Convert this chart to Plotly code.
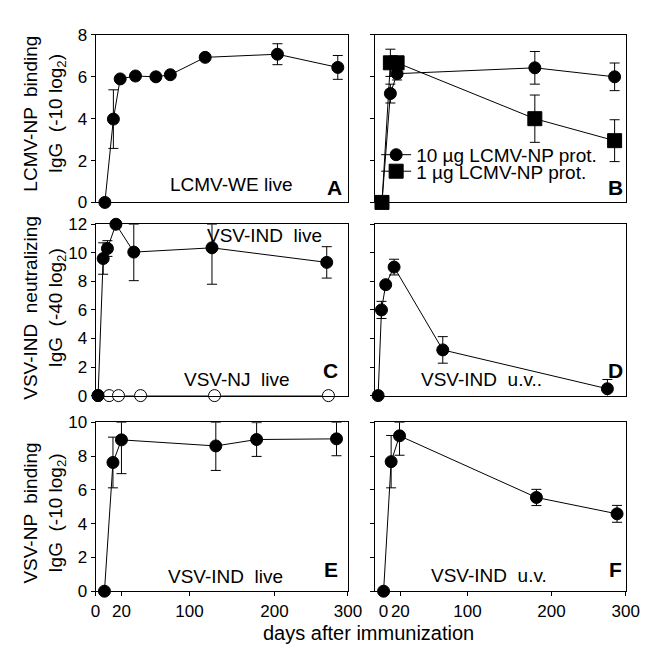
import plotly.graph_objects as go
from plotly.subplots import make_subplots

# ---------------- data ----------------
# Panel A: LCMV-NP binding IgG, LCMV-WE live
a_days = [0, 10, 18, 36, 60, 77, 118, 203, 274]
a_vals = [0, 3.98, 5.9, 6.04, 6.0, 6.1, 6.93, 7.08, 6.45]
a_err = [0, 1.4, 0, 0, 0, 0, 0, 0.5, 0.57]

# Panel B: 10 ug / 1 ug LCMV-NP protein
b10_days = [0, 10, 18, 182, 277]
b10_vals = [0, 5.2, 6.15, 6.43, 6.0]
b10_err = [0, 0.45, 0.3, 0.78, 0.66]
b1_days = [0, 10, 18, 182, 277]
b1_vals = [0, 6.67, 6.67, 4.0, 2.95]
b1_err = [0, 0.65, 0, 1.13, 1.0]

# Panel C: VSV-IND neutralizing IgG, VSV-IND live (filled) / VSV-NJ live (open)
c_ind_days = [0, 6, 11, 21, 42, 134, 269]
c_ind_vals = [0, 9.6, 10.3, 12.0, 10.05, 10.35, 9.33]
c_ind_err_plus = [0, 1.1, 0.55, 0, 1.95, 1.65, 1.1]
c_ind_err_minus = [0, 1.1, 0.55, 0, 2.0, 2.55, 1.1]
c_nj_days = [0, 13, 24, 50, 137, 271]
c_nj_vals = [0, 0, 0, 0, 0, 0]

# Panel D: VSV-IND u.v.
d_days = [0, 4, 9, 19, 77, 273]
d_vals = [0, 6.0, 7.77, 9.0, 3.2, 0.48]
d_err = [0, 0.6, 0, 0.55, 0.93, 0.65]

# Panel E: VSV-NP binding IgG, VSV-IND live
e_days = [0, 10, 20, 131, 179, 273]
e_vals = [0, 7.62, 8.96, 8.6, 8.98, 9.02]
e_err_plus = [0, 1.5, 1.04, 1.4, 1.0, 0.98]
e_err_minus = [0, 1.5, 2.0, 1.45, 1.0, 1.0]

# Panel F: VSV-IND u.v.
f_days = [0, 9, 19, 182, 278]
f_vals = [0, 7.67, 9.2, 5.55, 4.58]
f_err_plus = [0, 1.55, 0.8, 0.48, 0.5]
f_err_minus = [0, 1.55, 1.15, 0.48, 0.5]

x_tick_text = ["0", "20", "100", "200", "300"]
y_ticks_a = [0, 2, 4, 6, 8]
y_ticks_c = [0, 2, 4, 6, 8, 10, 12]
y_ticks_e = [0, 2, 4, 6, 8, 10]

y_titles = [
    "LCMV-NP  binding<br>IgG  (-10 log<sub>2</sub>)",
    "VSV-IND  neutralizing<br>IgG  (-40 log<sub>2</sub>)",
    "VSV-NP  binding<br>IgG  (-10 log<sub>2</sub>)",
]
x_title = "days after immunization"
legend_10 = "10 \u00b5g LCMV-NP prot."
legend_1 = "1 \u00b5g LCMV-NP prot."

# ---------------- figure ----------------
FONT = "Arial, Liberation Sans, sans-serif"
W, H = 655, 650

fig = make_subplots(rows=3, cols=2)


def px_x(p):
    return p / W


def px_y(p):
    return 1 - p / H


def err(plus, minus=None):
    d = dict(type="data", array=plus, visible=True, color="black", thickness=1, width=5)
    if minus is not None:
        d["symmetric"] = False
        d["arrayminus"] = minus
    return d


def add(x, y, row, col, e=None, symbol="circle", size=12, fill="black", name=None, legend=None):
    fig.add_trace(
        go.Scatter(
            x=x, y=y, mode="lines+markers",
            line=dict(color="black", width=1),
            marker=dict(symbol=symbol, size=size, color=fill, line=dict(color="black", width=1)),
            error_y=e,
            cliponaxis=False,
            name=name or "",
            showlegend=name is not None,
            legend=legend,
        ),
        row=row, col=col,
    )


add(a_days, a_vals, 1, 1, err(a_err))
add(b10_days, b10_vals, 1, 2, err(b10_err), name=legend_10, legend="legend")
add(b1_days, b1_vals, 1, 2, err(b1_err), symbol="square", size=14, name=legend_1, legend="legend2")
add(c_nj_days, c_nj_vals, 2, 1, None, size=12, fill="white")
add(c_ind_days, c_ind_vals, 2, 1, err(c_ind_err_plus, c_ind_err_minus))
add(d_days, d_vals, 2, 2, err(d_err))
add(e_days, e_vals, 3, 1, err(e_err_plus, e_err_minus))
add(f_days, f_vals, 3, 2, err(f_err_plus, f_err_minus))

# domains (pixel based)
col_x = [(85, 345), (373, 631)]
row_y = [(18.5, 191), (213.5, 390), (417.5, 591.5)]
x_ranges = {
    (1, 1): [-11.0, 286.0], (1, 2): [-8.1, 290.2],
    (2, 1): [-3.0, 294.0], (2, 2): [-3.5, 294.8],
    (3, 1): [-10.5, 286.5], (3, 2): [-10.0, 288.3],
}
y_info = {1: (y_ticks_a, [0, 8]), 2: (y_ticks_c, [0, 12]), 3: (y_ticks_e, [0, 10])}

tick_font = dict(family=FONT, size=17, color="black")
axis_common = dict(showline=True, linecolor="black", linewidth=1, mirror=True,
                   showgrid=False, zeroline=False, tickcolor="black", ticklen=4,
                   tickwidth=1, tickfont=tick_font)

for r in (1, 2, 3):
    for c in (1, 2):
        rng = x_ranges[(r, c)]
        xa = dict(axis_common, domain=[px_x(col_x[c - 1][0]), px_x(col_x[c - 1][1])], range=rng)
        if r == 3:
            # the "0" label of the left panel sits at the frame edge, "300" at the right edge
            first = rng[0] if c == 1 else 0
            xa.update(ticks="outside", tickvals=[first, 20, 100, 200, rng[1]],
                      ticktext=x_tick_text, showticklabels=True)
        else:
            xa.update(ticks="", showticklabels=False)
        yt, yr = y_info[r]
        ya = dict(axis_common, domain=[px_y(row_y[r - 1][1]), px_y(row_y[r - 1][0])],
                  range=yr, tickvals=yt, ticks="outside", showticklabels=(c == 1))
        fig.update_xaxes(xa, row=r, col=c)
        fig.update_yaxes(ya, row=r, col=c)

ann = []
txt_font = dict(family=FONT, size=19, color="black")
bold_font = dict(family=FONT, size=21, color="black", weight="bold")


def note(text, x, y, font, angle=0):
    ann.append(dict(text=text, x=px_x(x), y=px_y(y), xref="paper", yref="paper",
                    showarrow=False, xanchor="center", yanchor="middle", font=font,
                    textangle=angle))


note("LCMV-WE live", 225, 173, txt_font)
note("VSV-IND  live", 259, 225, txt_font)
note("VSV-NJ  live", 231, 373, txt_font)
note("VSV-IND  u.v..", 482, 373, txt_font)
note("VSV-IND  live", 219, 576, txt_font)
note("VSV-IND  u.v.", 490, 575, txt_font)
for letter, (lx, ly) in zip("ABCDEF", [(331, 176), (620, 176), (327, 364), (621, 364),
                                      (327, 569), (621, 569)]):
    note(letter, lx, ly, bold_font)
for t, yc in zip(y_titles, [100, 300, 511]):
    note(t, 32.5, yc, txt_font, angle=-90)
note(x_title, 366, 635, dict(family=FONT, size=20, color="black"))

leg_common = dict(xref="paper", yref="paper", xanchor="left", yanchor="middle",
                  bgcolor="rgba(0,0,0,0)", font=txt_font, borderwidth=0,
                  itemwidth=30, tracegroupgap=0)

fig.update_layout(
    width=W, height=H,
    margin=dict(l=0, r=0, t=0, b=0),
    paper_bgcolor="white", plot_bgcolor="white",
    annotations=ann,
    legend=dict(leg_common, x=px_x(374), y=px_y(142)),
    legend2=dict(leg_common, x=px_x(374), y=px_y(159)),
    font=dict(family=FONT, color="black"),
)

fig.write_html("out.html")
